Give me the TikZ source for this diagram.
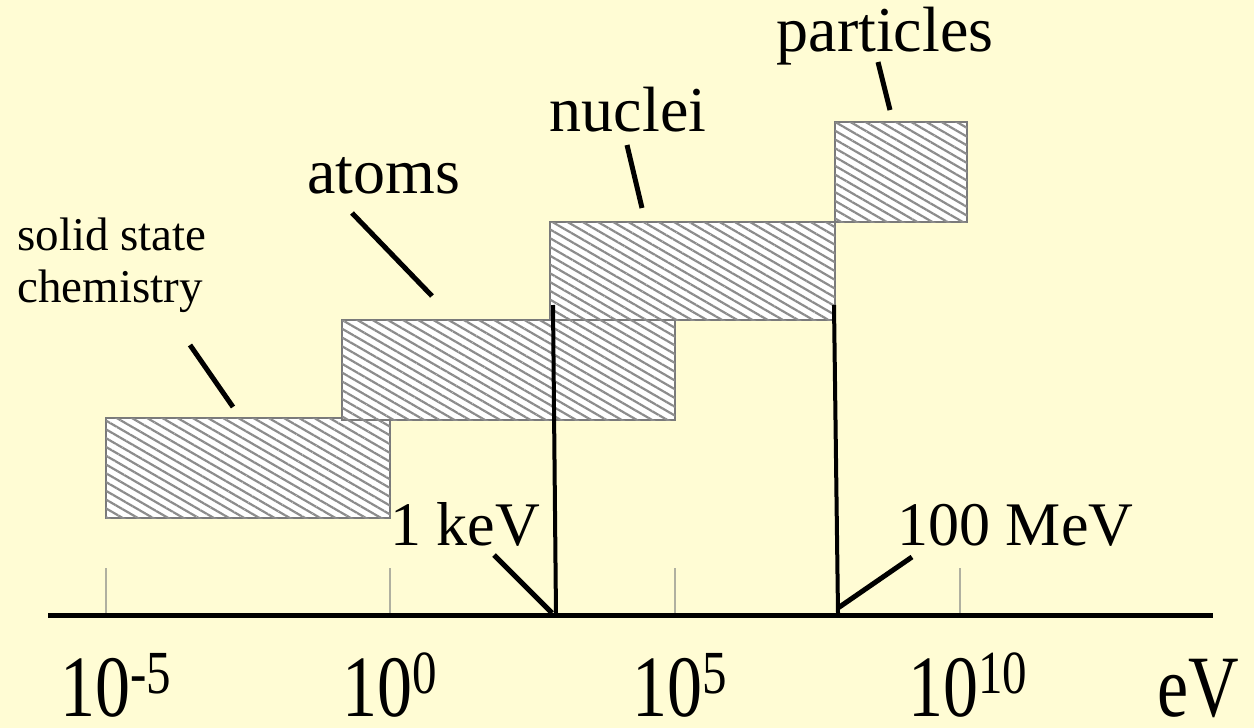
\documentclass[tikz,border=0pt]{standalone}
\usepackage{fontspec}
\setmainfont{Liberation Serif}
\usetikzlibrary{patterns.meta}
\definecolor{bgyellow}{HTML}{FFFCD4}
\definecolor{hatchgray}{HTML}{8C8C8C}
\definecolor{boxedge}{HTML}{7A7A7A}
\definecolor{tickgray}{HTML}{B0B0A0}
\begin{document}
\begin{tikzpicture}[x=0.5pt,y=-0.5pt,
  rangebox/.style={draw=boxedge, line width=1.1pt, fill=white,
    postaction={pattern={Lines[angle=-30,distance=3.8pt,line width=1.1pt]}, pattern color=hatchgray},
    inner sep=0pt, outer sep=0pt},
  lead/.style={line width=2.5pt, black},
  vline/.style={line width=2pt, black},
  tickmark/.style={line width=1.3pt, tickgray},
  biglabel/.style={font=\fontsize{32pt}{34pt}\selectfont, inner sep=0pt},
  smalllabel/.style={font=\fontsize{23.5pt}{26pt}\selectfont, inner sep=0pt, align=center},
  axislabel/.style={font=\fontsize{35pt}{36pt}\selectfont, inner sep=0pt, anchor=base west}
]
\fill[bgyellow] (0,0) rectangle (1254,728);
\useasboundingbox (0,0) rectangle (1254,728);

% boxes
\node[rangebox, minimum width=142pt, minimum height=50pt] (solid) at (248,468) {};
\node[rangebox, minimum width=166.5pt, minimum height=50pt] (atomsbox) at (508.5,370) {};
\node[rangebox, minimum width=142.5pt, minimum height=49pt] (nucbox) at (692.5,271) {};
\node[rangebox, minimum width=66pt, minimum height=50pt] (partbox) at (901,172) {};

% ticks
\coordinate (t1a) at (106,568); \coordinate (t1b) at (106,615);
\coordinate (t2a) at (390,568); \coordinate (t2b) at (390,615);
\coordinate (t3a) at (675,568); \coordinate (t3b) at (675,615);
\coordinate (t4a) at (960,568); \coordinate (t4b) at (960,615);
\draw[tickmark] (t1a) -- (t1b);
\draw[tickmark] (t2a) -- (t2b);
\draw[tickmark] (t3a) -- (t3b);
\draw[tickmark] (t4a) -- (t4b);

% axis
\coordinate (axl) at (48,615);
\coordinate (axr) at (1213,615);
\draw[line width=2.5pt] (axl) -- (axr);

% vertical lines
\coordinate (v1t) at (553,305); \coordinate (v1b) at (556,615);
\coordinate (v2t) at (834,305); \coordinate (v2b) at (838,613);
\draw[vline] (v1t) -- (v1b);
\draw[vline] (v2t) -- (v2b);

% labels
\node[smalllabel, anchor=base] (ssl) at (112,250) {solid state};
\node[smalllabel, anchor=base] (chem) at (110,302) {chemistry};
\node[biglabel, anchor=base] (atoms) at (384,193) {atoms};
\node[biglabel, anchor=base] (nuclei) at (628,131) {nuclei};
\node[biglabel, anchor=base] (particles) at (885,51) {particles};
\node[biglabel, anchor=base west, font=\fontsize{31pt}{33pt}\selectfont] (kev) at (390,545) {1 keV};
\node[biglabel, anchor=base west, font=\fontsize{31pt}{33pt}\selectfont] (mev) at (897,545) {100 MeV};

% leader lines
\coordinate (l1a) at (190,345); \coordinate (l1b) at (233,407);
\coordinate (l2a) at (352,213); \coordinate (l2b) at (432,296);
\coordinate (l3a) at (627,145); \coordinate (l3b) at (642,208);
\coordinate (l4a) at (878,62);  \coordinate (l4b) at (890,110);
\coordinate (l5a) at (494,555); \coordinate (l5b) at (552,613);
\coordinate (l6a) at (912,557); \coordinate (l6b) at (838,608);
\draw[lead] (l1a) -- (l1b);
\draw[lead] (l2a) -- (l2b);
\draw[lead] (l3a) -- (l3b);
\draw[lead] (l4a) -- (l4b);
\draw[lead] (l5a) -- (l5b);
\draw[lead] (l6a) -- (l6b);

% axis labels
\node[axislabel] (e1) at (60,716) {\scalebox{1}[1.25]{10\textsuperscript{-5}}};
\node[axislabel] (e2) at (342,716) {\scalebox{1}[1.25]{10\textsuperscript{0}}};
\node[axislabel] (e3) at (632,716) {\scalebox{1}[1.25]{10\textsuperscript{5}}};
\node[axislabel] (e4) at (908,716) {\scalebox{1}[1.25]{10\textsuperscript{10}}};
\node[axislabel] (ev) at (1157,716) {\scalebox{1}[1.25]{eV}};
\end{tikzpicture}
\end{document}
